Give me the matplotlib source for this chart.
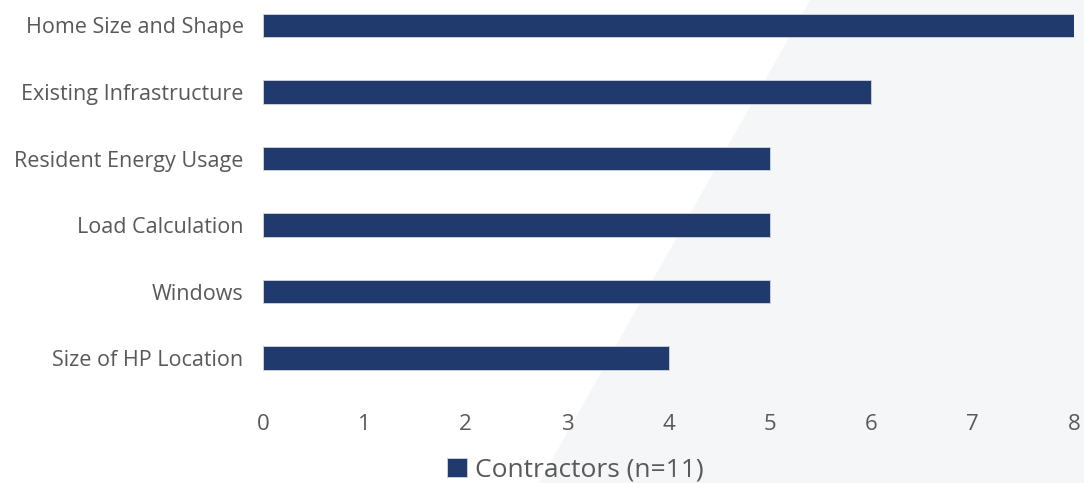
import matplotlib.pyplot as plt
from matplotlib.patches import Polygon

categories = ["Home Size and Shape", "Existing Infrastructure", "Resident Energy Usage",
              "Load Calculation", "Windows", "Size of HP Location"]
counts = [8, 6, 5, 5, 5, 4]
series_name = "Contractors (n=11)"

plt.rcParams['font.family'] = ['Open Sans', 'DejaVu Sans']
text_color = "#595959"
bar_color = "#213a6e"

fig = plt.figure(figsize=(10.84, 4.83), dpi=100)
fig.patch.set_facecolor("white")

# light grey diagonal panel behind the chart
bgax = fig.add_axes([0, 0, 1, 1], zorder=-1)
bgax.set_xlim(0, 1084)
bgax.set_ylim(483, 0)
bgax.axis("off")
bgax.add_patch(Polygon([(810, 0), (1084, 0), (1084, 483), (539, 483)],
                       closed=True, facecolor="#f5f6f7", edgecolor="none"))

ax = fig.add_axes([263 / 1084, 83 / 483, (1074 - 263) / 1084, 400 / 483])
ax.set_facecolor("none")

ypos = list(range(len(categories)))
ax.barh(ypos, counts, height=0.35, color=bar_color, edgecolor="#d0d5de",
        linewidth=0.6, label=series_name)

ax.set_xlim(0, 8)
ax.set_ylim(5.63, -0.383)
ax.set_yticks(ypos)
ax.set_yticklabels(categories)
ax.set_xticks(range(0, 9))

for s in ax.spines.values():
    s.set_visible(False)
ax.tick_params(axis='both', length=0, labelcolor=text_color)
ax.tick_params(axis='y', pad=14, labelsize=15.5)
ax.tick_params(axis='x', pad=10, labelsize=16)

leg = fig.legend(loc="center", bbox_to_anchor=(575 / 1084, 13 / 483), frameon=False,
                 fontsize=19, handlelength=0.75, handleheight=0.75, handletextpad=0.3)
for t in leg.get_texts():
    t.set_color(text_color)

fig.savefig("out.png", dpi=100)
